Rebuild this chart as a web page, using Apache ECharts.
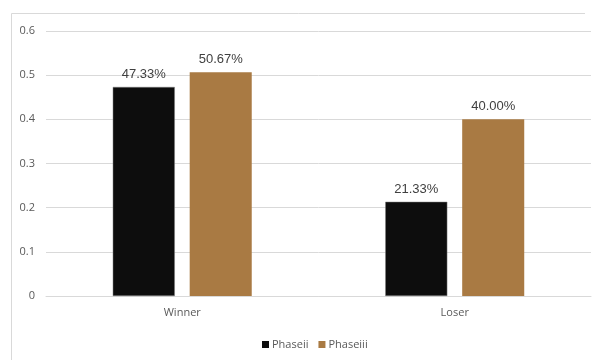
<!DOCTYPE html>
<html>
<head>
<meta charset="utf-8">
<script src="https://cdn.jsdelivr.net/npm/echarts@6/dist/echarts.min.js"></script>
<style>
  html, body { margin: 0; padding: 0; background: #fff; }
  #chart { width: 595px; height: 360px; }
</style>
</head>
<body>
<div id="chart"></div>
<script>
// Share of outcomes by phase
const categories = ['Winner', 'Loser'];
const seriesNames = ['Phaseii', 'Phaseiii'];
const phaseii = [0.4733, 0.2133];
const phaseiii = [0.5067, 0.4000];
const yTicks = [0, 0.1, 0.2, 0.3, 0.4, 0.5, 0.6];

const colors = ['#0d0d0d', '#a97a43'];

const chart = echarts.init(document.getElementById('chart'), null, { renderer: 'canvas' });

const labelStyle = {
  show: true,
  position: 'top',
  distance: 6,
  color: '#404040',
  fontSize: 13,
  fontFamily: 'Liberation Sans, Arial, sans-serif',
  formatter: p => (p.value * 100).toFixed(2) + '%'
};

chart.setOption({
  animation: false,
  backgroundColor: '#ffffff',
  color: colors,
  graphic: [
    { type: 'line', shape: { x1: 11.5, y1: 13.5, x2: 585, y2: 13.5 }, style: { stroke: '#d9d9d9', lineWidth: 1 }, silent: true },
    { type: 'line', shape: { x1: 11.5, y1: 13.5, x2: 11.5, y2: 360 }, style: { stroke: '#d9d9d9', lineWidth: 1 }, silent: true }
  ],
  grid: { left: 46, right: 4, top: 31, bottom: 64, containLabel: false },
  legend: {
    top: 334,
    left: 257,
    itemWidth: 7,
    itemHeight: 7,
    itemGap: 10,
    icon: 'rect',
    itemStyle: { borderWidth: 0 },
    textStyle: { color: '#595959', fontSize: 11, fontFamily: 'Open Sans, sans-serif', padding: [0, 0, 0, -2] },
    data: seriesNames
  },
  xAxis: {
    type: 'category',
    data: categories,
    axisLine: { show: true, lineStyle: { color: '#d9d9d9' } },
    axisTick: { show: false },
    axisLabel: { color: '#595959', fontSize: 11, fontFamily: 'Open Sans, sans-serif', margin: 11 }
  },
  yAxis: {
    type: 'value',
    min: yTicks[0],
    max: yTicks[yTicks.length - 1],
    interval: 0.1,
    axisLine: { show: false },
    axisTick: { show: false },
    splitLine: { lineStyle: { color: '#d9d9d9' } },
    axisLabel: {
      color: '#595959', fontSize: 11, fontFamily: 'Open Sans, sans-serif', margin: 11,
      formatter: v => String(Math.round(v * 10) / 10)
    }
  },
  series: [
    {
      name: seriesNames[0], type: 'bar', data: phaseii,
      barGap: '24%', barCategoryGap: '49%',
      itemStyle: { color: colors[0], borderColor: '#7f7f7f', borderWidth: 0.5 },
      label: labelStyle
    },
    {
      name: seriesNames[1], type: 'bar', data: phaseiii,
      itemStyle: { color: colors[1] },
      label: labelStyle
    }
  ]
});
</script>
</body>
</html>
